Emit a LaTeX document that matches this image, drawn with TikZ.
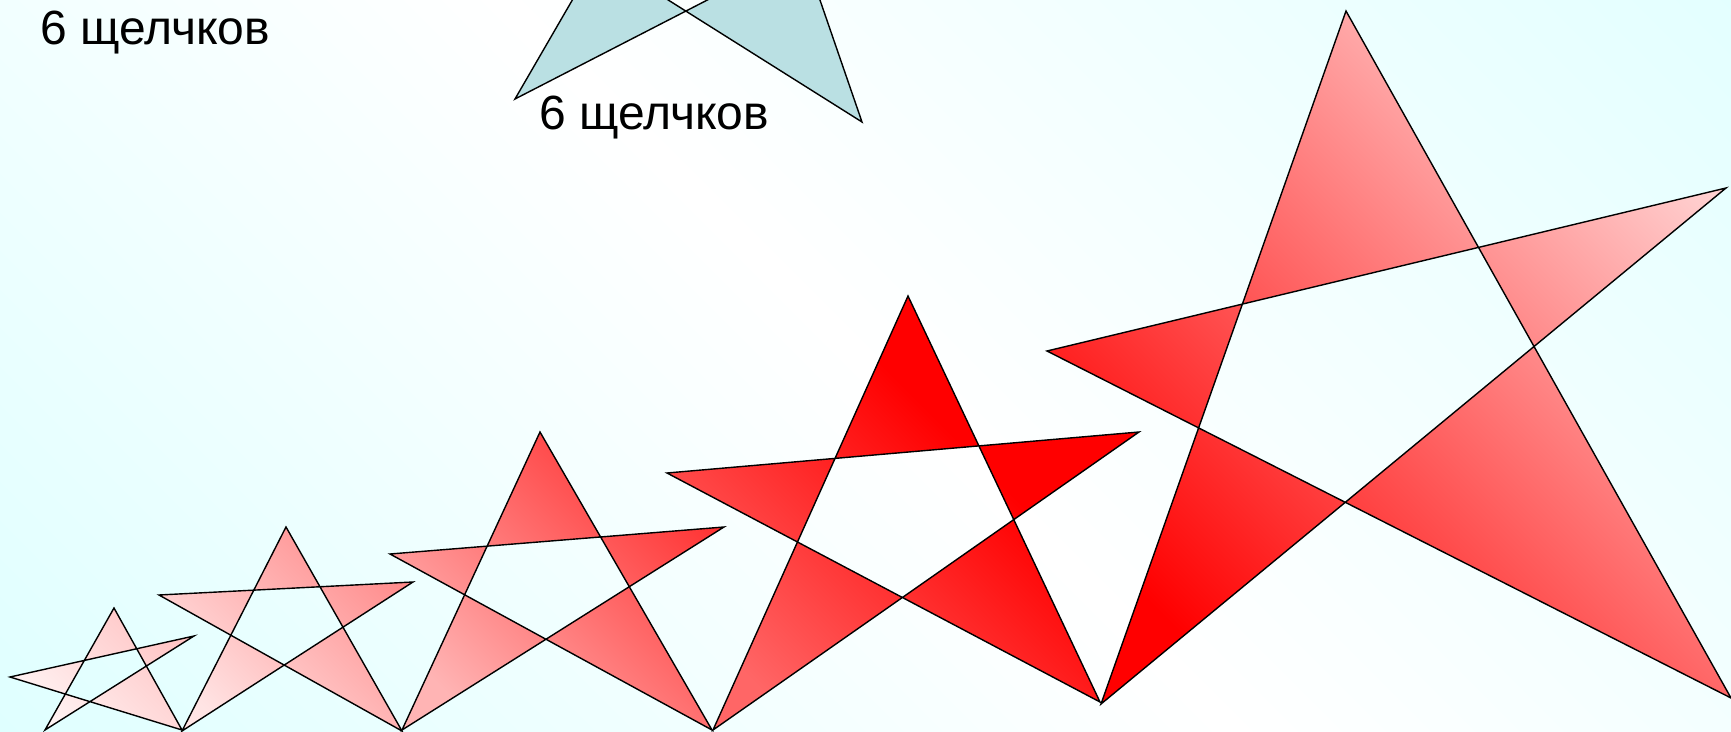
\documentclass[tikz,border=0pt]{standalone}
\usepackage{fontspec}
\setmainfont{Liberation Sans}
\definecolor{bgA}{HTML}{D2FFFF}
\definecolor{bgB}{HTML}{D8FFFF}
\definecolor{bluefill}{HTML}{BAE0E3}
\definecolor{sA1}{HTML}{FFF4F4}\definecolor{sB1}{HTML}{FFC4C4}
\definecolor{sA2}{HTML}{FFE4E4}\definecolor{sB2}{HTML}{FF8C8C}
\definecolor{sA3}{HTML}{FFB4B4}\definecolor{sB3}{HTML}{FF3030}
\definecolor{sA4}{HTML}{FF6666}\definecolor{sB4}{HTML}{FF0000}
\definecolor{sA5}{HTML}{FF0000}\definecolor{sB5}{HTML}{FFD0D0}
\pgfdeclareverticalshading{bgshade}{100bp}{color(0bp)=(bgA); color(25bp)=(bgA); color(50bp)=(white); color(75bp)=(bgB); color(100bp)=(bgB)}
\pgfdeclareverticalshading{starfour}{100bp}{color(0bp)=(sA4); color(25bp)=(sA4); color(60bp)=(sB4); color(100bp)=(sB4)}
\tikzset{
  starline/.style={draw=black, line width=0.7pt, line join=miter, even odd rule},
  redstar/.style 2 args={starline, bottom color=#1, top color=#2, shading angle=-45},
  label/.style={inner sep=0pt, anchor=base west, font=\fontsize{24}{29}\selectfont}
}
\begin{document}
\begin{tikzpicture}[x=0.5pt,y=-0.5pt]
\useasboundingbox (0,0) rectangle (1731,732);
\clip (0,0) rectangle (1731,732);
% background
\shade[shading=bgshade, shading angle=-45] (-366,-865.5) rectangle (2097,1597.5);
% blue star (partly off the top)
\filldraw[starline, fill=bluefill] (727.6,-268) -- (515,99) -- (892,-95) -- (503,-104) -- (862,122) -- cycle;
% text
\node[label] (t1) at (40,45) {6 щелчков};
\node[label] (t2) at (539,130) {6 щелчков};
% red stars
\shadedraw[redstar={sA1}{sB1}] (114,608) -- (45,730) -- (194,636) -- (10,677) -- (182,730) -- cycle;
\shadedraw[redstar={sA2}{sB2}] (286,527) -- (182,731) -- (413,582) -- (159,595) -- (402,731) -- cycle;
\shadedraw[redstar={sA3}{sB3}] (540,432) -- (402,730) -- (724,527) -- (390,554) -- (712,730) -- cycle;
\shadedraw[starline, shading=starfour, shading angle=-45] (908,296) -- (713,730) -- (1139,432) -- (667,473) -- (1100,702) -- cycle;
\shadedraw[redstar={sA5}{sB5}] (1346,11) -- (1101,704) -- (1726,188) -- (1047,351) -- (1731,698) -- cycle;
\end{tikzpicture}
\end{document}
